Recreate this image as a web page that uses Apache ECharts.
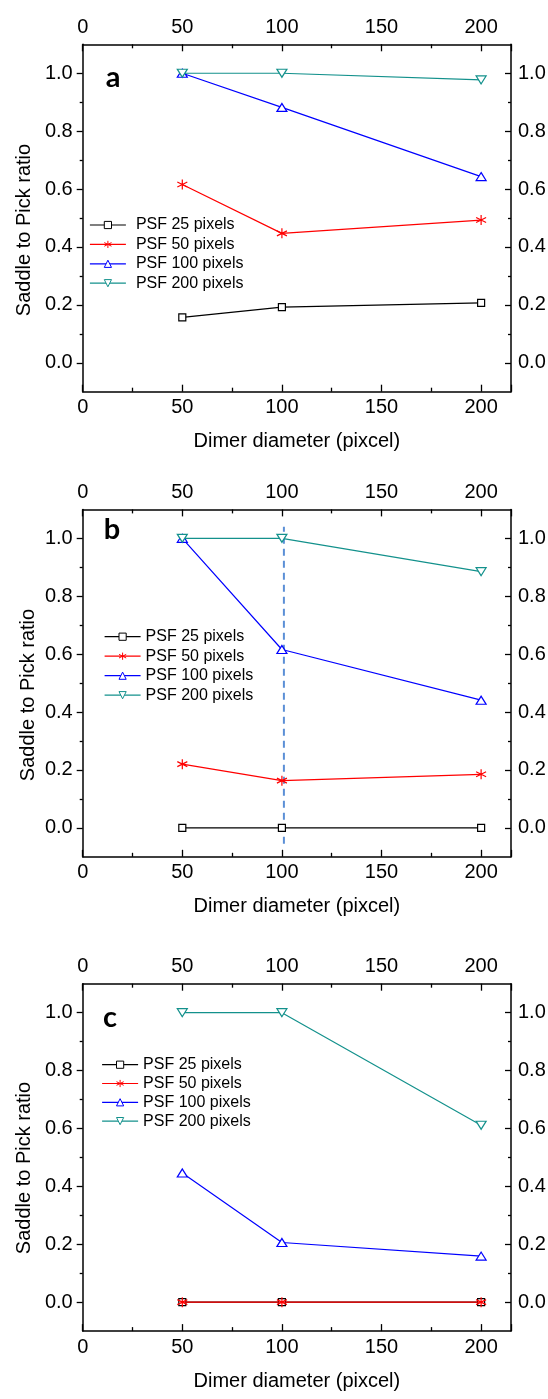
<!DOCTYPE html>
<html>
<head>
<meta charset="utf-8">
<style>
  html, body { margin: 0; padding: 0; background: #fff; }
  #chart { width: 548px; height: 1399px; }
</style>
<script src="https://cdn.jsdelivr.net/npm/echarts@6/dist/echarts.min.js"></script>
</head>
<body>
<div id="chart"></div>
<script>
// Dimer diameters (pixcel) at which the saddle-to-peak ratio was measured
const diameters = [50, 100, 200];

const seriesNames = ['PSF 25 pixels', 'PSF 50 pixels', 'PSF 100 pixels', 'PSF 200 pixels'];

// Panel a
const ratioA25 = [0.157, 0.192, 0.207];
const ratioA50 = [0.616, 0.447, 0.493];
const ratioA100 = [1.0, 0.882, 0.643];
const ratioA200 = [1.0, 1.0, 0.977];

// Panel b
const ratioB25 = [0.0, 0.0, 0.0];
const ratioB50 = [0.220, 0.163, 0.185];
const ratioB100 = [1.0, 0.616, 0.441];
const ratioB200 = [1.0, 1.0, 0.885];

// Panel c
const ratioC25 = [0.0, 0.0, 0.0];
const ratioC50 = [0.0, 0.0, 0.0];
const ratioC100 = [0.446, 0.206, 0.159];
const ratioC200 = [1.0, 1.0, 0.611];

// Dashed guide in panel b
const guideDiameter = 101;
const guideSpan = [-0.055, 1.04];

// Axis ticks
const xTickValues = [0, 50, 100, 150, 200];
const yMajorTicks = [0.0, 0.2, 0.4, 0.6, 0.8, 1.0];
const yMinorTicks = [0.1, 0.3, 0.5, 0.7, 0.9];

const panelLetters = ['a', 'b', 'c'];
const panels = [
  [ratioA25, ratioA50, ratioA100, ratioA200],
  [ratioB25, ratioB50, ratioB100, ratioB200],
  [ratioC25, ratioC50, ratioC100, ratioC200]
];

const FONT = '"Liberation Sans", Arial, sans-serif';
const gridTops = [44.3, 509.4, 983.7];
const gridHeight = 347.4;
const gridLeft = 82.7;
const gridRight = 37;

const colors = ['#000000', '#ff0000', '#0000ff', '#13918c'];
const asterisk = 'path://M5,0L5,10M0.67,2.5L9.33,7.5M0.67,7.5L9.33,2.5';
const symbolDefs = [
  { symbol: 'rect', size: 7, rotate: 0, hollow: true },
  { symbol: asterisk, size: 10, rotate: 0, hollow: false },
  { symbol: 'triangle', size: [10, 8], rotate: 0, hollow: true },
  { symbol: 'triangle', size: [10, 8], rotate: 180, hollow: true }
];

const legendLayout = [
  { left: 89.3, top: 217, gap: 3.4, pad: 5 },
  { left: 104, top: 628.7, gap: 3.5, pad: 0 },
  { left: 101.5, top: 1056.7, gap: 2.8, pad: 0 }
];
const yTitleCenters = [[24.5, 230], [28, 695], [24.5, 1168]];
const letterPos = [[113, 78], [112, 529.6], [110, 1017.3]];

const grids = [], xAxes = [], yAxes = [], series = [], legends = [], graphics = [];

function yAxisDef(g, position, ticks, tickLen, labels) {
  const inside = position === 'right';
  return {
    type: 'value', gridIndex: g, position: position,
    min: -0.1, max: 1.1,
    axisLine: { show: labels, onZero: false, lineStyle: { color: '#000', width: 1.5 } },
    axisTick: { show: true, inside: inside, length: tickLen, customValues: ticks,
                lineStyle: { color: '#000', width: 1.3 } },
    axisLabel: { show: labels, customValues: ticks, margin: position === 'left' ? 10 : 7,
                 formatter: v => v.toFixed(1), fontSize: 20, color: '#000', fontFamily: FONT },
    splitLine: { show: false }
  };
}

function xAxisDef(g, position) {
  const ax = {
    type: 'value', gridIndex: g, position: position,
    min: 0, max: 215, interval: 50,
    axisLine: { show: true, onZero: false, lineStyle: { color: '#000', width: 1.5 } },
    axisTick: { show: true, inside: true, length: 7, lineStyle: { color: '#000', width: 1.3 } },
    minorTick: { show: true, splitNumber: 2, length: 4, lineStyle: { color: '#000', width: 1.3 } },
    axisLabel: { show: true, margin: position === 'top' ? 7 : 6, fontSize: 20, color: '#000',
                 fontFamily: FONT, customValues: xTickValues },
    splitLine: { show: false }, minorSplitLine: { show: false }
  };
  if (position === 'bottom') {
    ax.name = 'Dimer diameter (pixcel)';
    ax.nameLocation = 'middle';
    ax.nameGap = 40;
    ax.nameTextStyle = { fontSize: 20, color: '#000', fontFamily: FONT };
  }
  return ax;
}

panels.forEach((values, g) => {
  grids.push({ left: gridLeft, right: gridRight, top: gridTops[g], height: gridHeight,
               outerBoundsMode: 'none', containLabel: false });
  xAxes.push(xAxisDef(g, 'bottom'), xAxisDef(g, 'top'));
  yAxes.push(
    yAxisDef(g, 'left', yMajorTicks, 6, true),
    yAxisDef(g, 'left', yMinorTicks, 3, false),
    yAxisDef(g, 'right', yMajorTicks, 6, true),
    yAxisDef(g, 'right', yMinorTicks, 3, false)
  );
  values.forEach((vals, s) => {
    const def = symbolDefs[s];
    series.push({
      type: 'line', name: seriesNames[s],
      xAxisIndex: 2 * g, yAxisIndex: 4 * g,
      data: diameters.map((d, i) => [d, vals[i]]),
      symbol: def.symbol, symbolSize: def.size, symbolRotate: def.rotate,
      showAllSymbol: true, animation: false,
      lineStyle: { color: colors[s], width: 1.2 },
      itemStyle: { color: def.hollow ? '#ffffff' : colors[s], borderColor: colors[s], borderWidth: 1.2 },
      emphasis: { disabled: true },
      z: 2 + s
    });
  });
  const L = legendLayout[g];
  legends.push({
    orient: 'vertical', left: L.left, top: L.top, padding: 0,
    itemWidth: 36, itemHeight: 9, itemGap: L.gap,
    selectedMode: false,
    data: seriesNames,
    itemStyle: { borderWidth: 1 },
    lineStyle: { width: 1.2 },
    textStyle: { fontSize: 16, lineHeight: 16, color: '#000', fontFamily: FONT,
                 padding: [0, 0, 0, L.pad] }
  });
  graphics.push({
    type: 'text', x: yTitleCenters[g][0], y: yTitleCenters[g][1], rotation: Math.PI / 2,
    style: { text: 'Saddle to Pick ratio', fontSize: 20, fontFamily: FONT, fill: '#000',
             textAlign: 'center', textVerticalAlign: 'middle' }
  });
  graphics.push({
    type: 'text', x: letterPos[g][0], y: letterPos[g][1],
    style: { text: panelLetters[g], fontSize: 29, fontWeight: 'bold', fontFamily: 'Lato, "Open Sans", sans-serif',
             fill: '#000', textAlign: 'center', textVerticalAlign: 'middle' }
  });
});

// Vertical dashed guide in panel b
series.push({
  type: 'line', name: 'guide', xAxisIndex: 2, yAxisIndex: 4,
  data: guideSpan.map(v => [guideDiameter, v]),
  symbol: 'none', animation: false, silent: true,
  lineStyle: { color: '#5b8fd6', width: 2, type: [7, 5] },
  z: 1
});

const chart = echarts.init(document.getElementById('chart'), null, { renderer: 'canvas' });
chart.setOption({
  backgroundColor: '#ffffff',
  animation: false,
  grid: grids,
  xAxis: xAxes,
  yAxis: yAxes,
  legend: legends,
  series: series,
  graphic: graphics
});
</script>
</body>
</html>
